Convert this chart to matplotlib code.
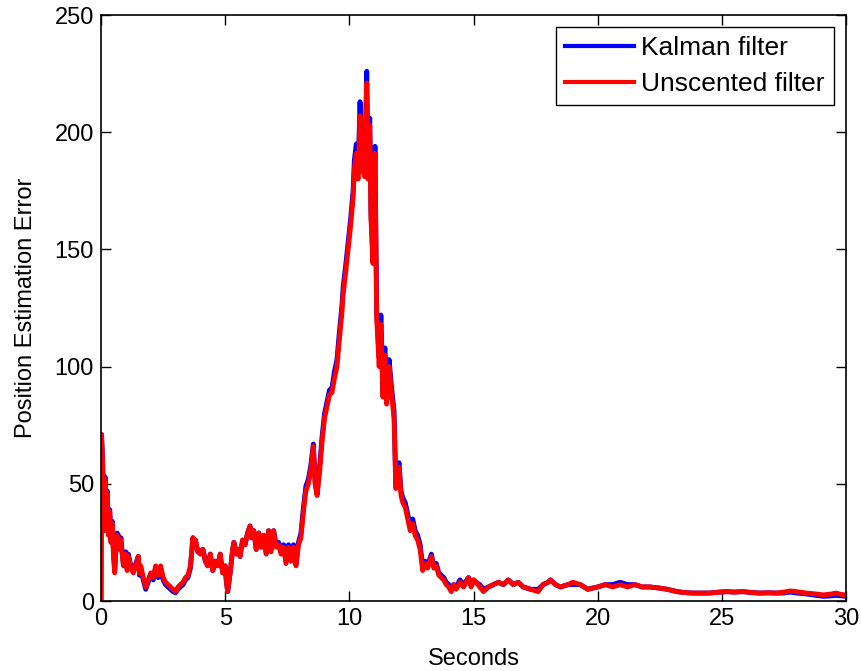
import matplotlib
matplotlib.use("Agg")
import matplotlib.pyplot as plt

t = [0, 0.02, 0.06, 0.1, 0.13, 0.16, 0.2, 0.25, 0.3, 0.35, 0.4, 0.45, 0.5, 0.55, 0.6, 0.65, 0.7, 0.75, 0.8, 0.85,
     0.9, 1.0, 1.05, 1.1, 1.2, 1.3, 1.4, 1.5, 1.55, 1.6, 1.7, 1.8, 1.9, 2.0, 2.1, 2.2, 2.3, 2.4, 2.5, 2.6,
     2.7, 2.8, 2.9, 3.0, 3.1, 3.2, 3.3, 3.4, 3.5, 3.6, 3.7, 3.75, 3.8, 3.9, 4.0, 4.1, 4.2, 4.3, 4.4, 4.5,
     4.6, 4.7, 4.8, 4.9, 5.0, 5.05, 5.1, 5.2, 5.3, 5.35, 5.45, 5.5, 5.6, 5.7, 5.8, 5.9, 6.0, 6.05, 6.15, 6.25,
     6.35, 6.45, 6.55, 6.65, 6.75, 6.85, 6.95, 7.05, 7.15, 7.25, 7.35, 7.45, 7.55, 7.65, 7.75, 7.85, 7.95, 8.05, 8.15, 8.25,
     8.35, 8.45, 8.55, 8.62, 8.7, 8.8, 8.9, 9.0, 9.1, 9.2, 9.3, 9.4, 9.5, 9.6, 9.7, 9.75, 9.85, 9.95, 10.05, 10.15,
     10.2, 10.28, 10.35, 10.43, 10.5, 10.55, 10.62, 10.7, 10.75, 10.82, 10.87, 10.95, 11.03, 11.07, 11.1, 11.2, 11.27, 11.35, 11.43, 11.5,
     11.6, 11.7, 11.8, 11.87, 11.93, 12.0, 12.08, 12.15, 12.25, 12.35, 12.45, 12.55, 12.65, 12.75, 12.85, 12.95, 13.05, 13.15, 13.3, 13.4,
     13.5, 13.6, 13.7, 13.8, 13.9, 14.0, 14.1, 14.2, 14.3, 14.45, 14.6, 14.8, 14.9, 15.0, 15.1, 15.25, 15.4, 15.6, 15.8, 16.0,
     16.2, 16.4, 16.6, 16.8, 17.0, 17.3, 17.6, 17.8, 18.0, 18.1, 18.3, 18.5, 18.8, 19.0, 19.3, 19.6, 20.0, 20.3, 20.6, 20.9,
     21.2, 21.5, 21.8, 22.1, 22.5, 22.8, 23.2, 23.5, 23.85, 24.2, 24.5, 24.9, 25.2, 25.5, 25.85, 26.2, 26.5, 26.9, 27.2, 27.5,
     27.75, 28.0, 28.4, 28.8, 29.1, 29.4, 29.6, 29.8, 30.0]

unscented = [0, 71, 60, 45, 30, 52, 40, 46, 28, 38, 25, 33, 20, 12, 22, 28, 27, 22, 26, 20,
             15, 20, 13, 19, 14, 12, 15, 19, 12, 15, 10, 6, 9, 12, 10, 15, 11, 15, 10, 8,
             7, 6, 5, 4, 6, 7, 8, 10, 11, 15, 27, 23, 26, 21, 20, 22, 17, 15, 20, 13,
             17, 15, 20, 12, 15, 8, 4, 12, 22, 25, 20, 22, 19, 26, 24, 29, 32, 27, 30, 22,
             29, 23, 28, 20, 30, 21, 30, 23, 24, 20, 23, 16, 23, 17, 23, 15, 24, 27, 38, 47,
             50, 56, 66, 50, 45, 55, 68, 78, 83, 88, 89, 95, 100, 112, 123, 131, 140, 150, 160, 172,
             184, 191, 180, 207, 183, 197, 181, 221, 180, 203, 163, 144, 191, 149, 121, 100, 118, 87, 105, 84,
             100, 88, 78, 48, 52, 57, 45, 42, 40, 35, 30, 33, 28, 26, 22, 13, 16, 14, 19, 14,
             15, 11, 10, 9, 7, 6, 4, 7, 5, 8, 6, 10, 6, 9, 8, 6, 4, 6, 7, 8,
             7, 9, 7, 8, 6, 5, 4, 7, 8, 9, 7, 6, 7, 8, 7, 5, 6, 7, 6, 7,
             6, 7, 6, 6, 5.5, 5, 4, 3.6, 3.4, 3.4, 3.4, 3.8, 4, 3.8, 4, 3.6, 3.4, 3.5, 3.4, 3.8,
             4.3, 4, 3.4, 3, 2.6, 3, 3.4, 2.8, 2.6]

kalman = [0, 71, 61, 46, 31, 53, 41, 47, 29, 39, 26, 34, 21, 13, 22, 29, 28, 23, 27, 21,
          16, 21, 14, 20, 15, 13, 16, 19, 11, 14, 9, 5, 8, 11, 9, 14, 10, 14, 9, 7,
          6, 5, 4, 3.5, 5, 6, 7, 9, 10, 14, 27, 23, 26, 21, 21, 22, 17, 15, 20, 13,
          17, 15, 20, 12, 15, 8, 4, 12, 22, 25, 21, 22, 19, 26, 24, 29, 32, 27, 30, 22,
          29, 23, 28, 21, 30, 22, 30, 24, 25, 21, 24, 17, 24, 18, 24, 16, 25, 29, 40, 49,
          52, 58, 67, 51, 46, 57, 70, 80, 85, 90, 91, 98, 103, 115, 126, 134, 143, 153, 163, 175,
          188, 195, 184, 213, 187, 200, 185, 226, 184, 206, 166, 146, 194, 152, 123, 104, 122, 90, 108, 87,
          103, 91, 81, 50, 55, 59, 47, 44, 42, 37, 32, 35, 30, 28, 24, 15, 17, 15, 20, 15,
          16, 12, 11, 10, 8, 7, 5, 7, 6, 9, 7, 10, 7, 9, 8, 7, 5, 6, 7, 8,
          7, 9, 7, 8, 6, 5, 5, 7, 8, 9, 7, 6, 7, 7, 7, 5, 6, 7, 7, 8,
          7, 7, 6, 6, 5.5, 5, 4, 3.6, 3.4, 3.4, 3.4, 3.8, 4, 3.8, 4, 3.6, 3.4, 3.5, 3.4, 3.4,
          3.8, 3.4, 3.0, 2.4, 2.0, 2.2, 2.4, 2.2, 2.0]

assert len(t) == len(unscented) == len(kalman)

plt.rcParams['font.family'] = ['Liberation Sans', 'DejaVu Sans']

fig = plt.figure(figsize=(8.62, 6.71), dpi=100)
ax = fig.add_axes([0.1172, 0.1043, 0.8643, 0.8733])

ax.plot(t, kalman, color='#0000ff', lw=3.5, label='Kalman filter')
ax.plot(t, unscented, color='#ff0000', lw=3.5, label='Unscented filter')

ax.set_xlim(0, 30)
ax.set_ylim(0, 250)
ax.set_xticks([0, 5, 10, 15, 20, 25, 30])
ax.set_yticks([0, 50, 100, 150, 200, 250])
ax.tick_params(direction='in', length=7, width=1, top=True, right=True, labelsize=17, pad=5)
for s in ax.spines.values():
    s.set_linewidth(1.2)

ax.set_xlabel('Seconds', fontsize=17, labelpad=13)
ax.set_ylabel('Position Estimation Error', fontsize=17, labelpad=13)

leg = ax.legend(loc='upper right', fontsize=19, fancybox=False, framealpha=1,
                edgecolor='black', handlelength=2.6, handletextpad=0.3, borderpad=0.35,
                labelspacing=0.45, borderaxespad=0.45)
leg.get_frame().set_linewidth(1.0)
for line in leg.get_lines():
    line.set_linewidth(3)

fig.savefig('out.png', dpi=100)
